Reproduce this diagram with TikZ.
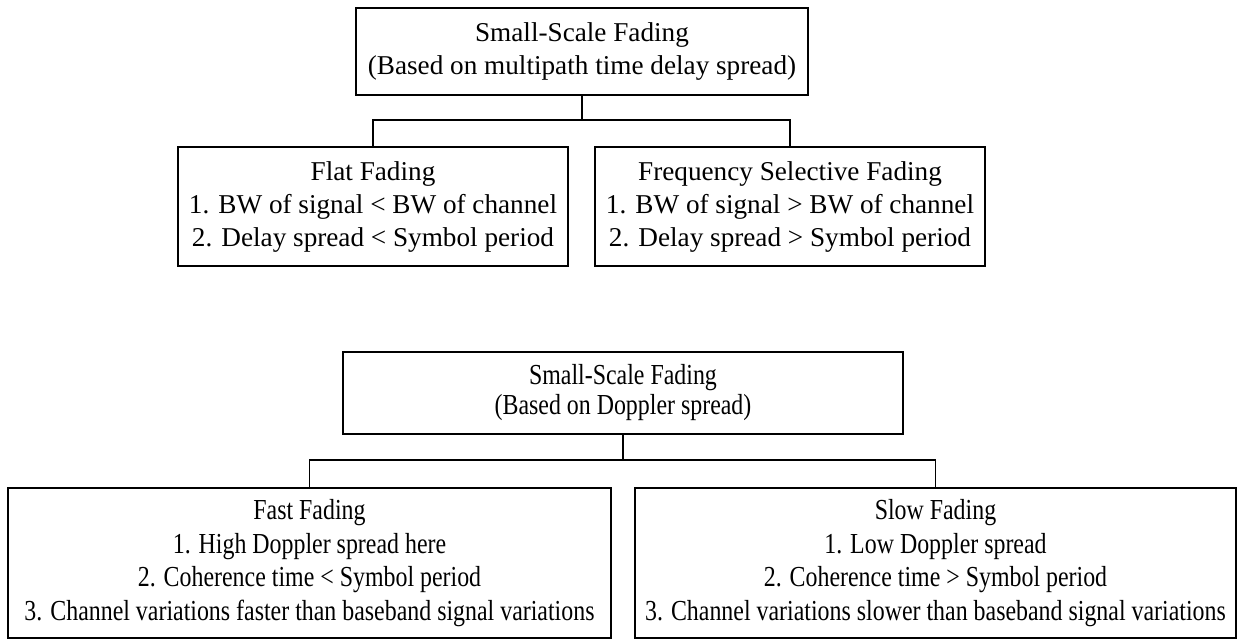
\documentclass[tikz,border=0pt]{standalone}
\usepackage{fontspec}
\setmainfont{Liberation Serif}
\newfontfamily\condfont[FakeStretch=0.824]{Liberation Serif}
\begin{document}
\begin{tikzpicture}[x=1pt,y=-1pt,
  box/.style={draw,line width=1.5pt,rectangle,inner sep=0pt,outer sep=0pt,align=center,
    font=\fontsize{27.2}{33}\selectfont},
  cbox/.style={draw,line width=1.5pt,rectangle,inner sep=0pt,outer sep=0pt,align=center,
    font=\condfont\fontsize{29}{33.5}\selectfont},
  conn/.style={line width=1.5pt}]
\useasboundingbox (0,0) rectangle (1237,640);
% top diagram
\node[box,minimum width=452pt,minimum height=87pt] (top) at (582,51.5)
  {Small-Scale Fading\\(Based on multipath time delay spread)};
\node[box,minimum width=390pt,minimum height=119pt] (flat) at (373,206.5)
  {Flat Fading\\1. BW of signal < BW of channel\\2. Delay spread < Symbol period};
\node[box,minimum width=390pt,minimum height=119pt] (freq) at (790,206.5)
  {Frequency Selective Fading\\1. BW of signal > BW of channel\\2. Delay spread > Symbol period};
\coordinate (j1) at (582,120);
\draw[conn] (top.south) -- (j1);
\draw[conn] (j1) -| (flat.north);
\draw[conn] (j1) -| (freq.north);
% bottom diagram
\node[cbox,minimum width=560pt,minimum height=82pt,font=\condfont\fontsize{29}{30}\selectfont] (top2) at (623,393)
  {Small-Scale Fading\\(Based on Doppler spread)};
\node[cbox,minimum width=603pt,minimum height=150pt] (fast) at (309.5,563)
  {Fast Fading\\1. High Doppler spread here\\2. Coherence time < Symbol period\\3. Channel variations faster than baseband signal variations};
\node[cbox,minimum width=601pt,minimum height=150pt] (slow) at (935.5,563)
  {Slow Fading\\1. Low Doppler spread\\2. Coherence time > Symbol period\\3. Channel variations slower than baseband signal variations};
\coordinate (j2) at (623,460);
\draw[conn] (top2.south) -- (j2);
\draw[conn] (j2) -| (fast.north);
\draw[conn] (j2) -| (slow.north);
\end{tikzpicture}
\end{document}
